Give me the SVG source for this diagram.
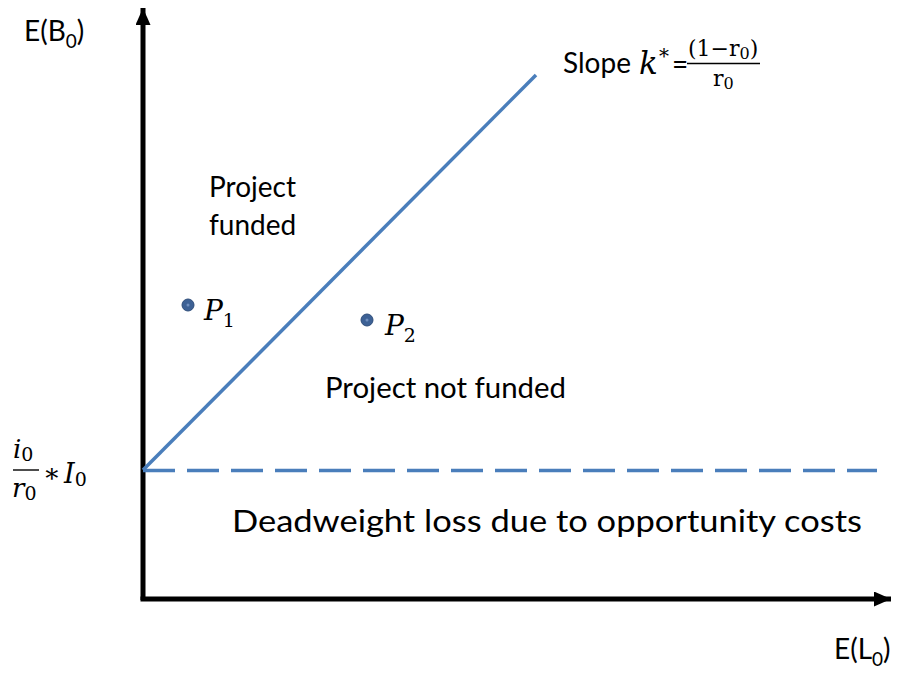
<svg xmlns="http://www.w3.org/2000/svg" width="911" height="677" viewBox="0 0 911 677">
<style>
.lbl{font-family:Lato,"Open Sans","Liberation Sans",sans-serif;fill:#000;}
.math{font-family:"DejaVu Serif","Liberation Serif",serif;fill:#000;}
.it{font-style:italic;}
.axis{stroke:#000;stroke-width:5;fill:none;}
.blue{stroke:#4A7EBB;stroke-width:3.5;fill:none;}
.dot{fill:#3D6195;stroke:#2E4D7A;stroke-width:1;}
</style>
<defs>
<marker id="ah" markerWidth="18" markerHeight="15" refX="17" refY="7.5" orient="auto" markerUnits="userSpaceOnUse">
<path d="M0,0 L17,7.5 L0,15 Z" fill="#000"/>
</marker>
</defs>
<g id="connectors">
<line id="y-axis" class="axis" x1="143" y1="600" x2="143" y2="8" marker-end="url(#ah)"/>
<line id="x-axis" class="axis" x1="140.5" y1="599" x2="891" y2="599" marker-end="url(#ah)"/>
<line id="slope-line" class="blue" x1="143" y1="470" x2="536" y2="75"/>
<line id="threshold-line" class="blue" x1="143" y1="470.5" x2="877" y2="470.5" stroke-dasharray="32 12"/>
</g>
<g id="label-EB0">
<text class="lbl" x="24" y="41" font-size="28">E(B<tspan font-size="19" dy="7">0</tspan><tspan dy="-7">)</tspan></text>
</g>
<g id="label-EL0">
<text class="lbl" x="834" y="659" font-size="28">E(L<tspan font-size="19" dy="7">0</tspan><tspan dy="-7">)</tspan></text>
</g>
<g id="label-slope">
<text class="lbl" x="563" y="73" font-size="28">Slope</text>
<text class="math it" x="639" y="74" font-size="31">k</text>
<text class="math" x="659" y="63" font-size="20">*</text>
<text class="lbl" x="672" y="74" font-size="28">=</text>
<text class="math" x="688" y="56" font-size="22">(1−r<tspan font-size="16" dy="3">0</tspan><tspan dy="-3">)</tspan></text>
<line x1="687" y1="63.5" x2="760" y2="63.5" stroke="#000" stroke-width="1.4"/>
<text class="math" x="713" y="86" font-size="22">r<tspan font-size="16" dy="3">0</tspan></text>
</g>
<g id="label-intercept">
<text class="math it" x="13" y="458" font-size="26">i<tspan font-size="19" dy="3" font-style="normal">0</tspan></text>
<line x1="13" y1="470" x2="39" y2="470" stroke="#000" stroke-width="1.4"/>
<text class="math it" x="12" y="497" font-size="26">r<tspan font-size="19" dy="3" font-style="normal">0</tspan></text>
<text class="math" x="43" y="482" font-size="26">∗</text>
<text class="math it" x="64" y="483" font-size="27">I<tspan font-size="19" dy="3" font-style="normal">0</tspan></text>
</g>
<g id="region-funded">
<text class="lbl" x="209" y="197" font-size="28">Project</text>
<text class="lbl" x="209" y="235" font-size="28">funded</text>
</g>
<g id="region-not-funded">
<text class="lbl" x="325" y="398" font-size="28" textLength="241" lengthAdjust="spacingAndGlyphs">Project not funded</text>
</g>
<g id="region-deadweight">
<text class="lbl" x="232" y="532" font-size="31" textLength="630" lengthAdjust="spacingAndGlyphs">Deadweight loss due to opportunity costs</text>
</g>
<g id="point-P1">
<circle class="dot" cx="188" cy="305" r="6"/>
<circle cx="188" cy="305" r="1.5" fill="#6F8FBF"/>
<text class="math it" x="204" y="320" font-size="28">P<tspan font-size="19" dy="7" font-style="normal">1</tspan></text>
</g>
<g id="point-P2">
<circle class="dot" cx="367" cy="320" r="6"/>
<circle cx="367" cy="320" r="1.5" fill="#6F8FBF"/>
<text class="math it" x="385" y="335" font-size="28">P<tspan font-size="19" dy="7" font-style="normal">2</tspan></text>
</g>
</svg>
